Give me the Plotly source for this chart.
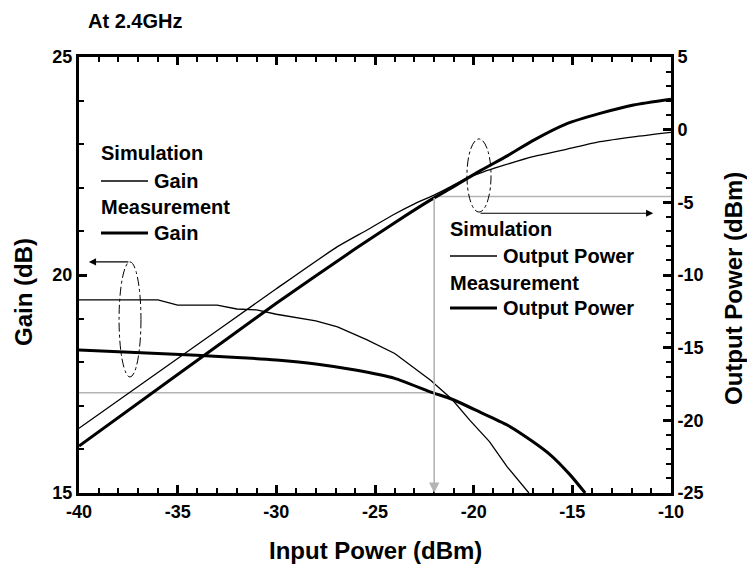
import plotly.graph_objects as go

# ---------------- data ----------------
sim_gain_x = [-40, -36, -35, -33, -32, -31, -30, -28, -26.9, -25.4, -24, -23.1, -22.2, -21.1, -20.2, -19.2, -18.3, -17.2]
sim_gain_y = [19.43, 19.43, 19.31, 19.31, 19.22, 19.2, 19.1, 18.95, 18.81, 18.51, 18.2, 17.9, 17.59, 17.15, 16.67, 16.18, 15.6, 15.0]

meas_gain_x = [-40, -36, -32, -30, -28, -26, -24, -22.2, -21.1, -19.7, -18.3, -17.1, -16.1, -15.1, -14.35]
meas_gain_y = [18.28, 18.2, 18.11, 18.05, 17.96, 17.82, 17.63, 17.32, 17.15, 16.86, 16.56, 16.21, 15.87, 15.41, 15.0]

sim_pout_x = [-40, -35, -30, -26.9, -25.4, -24, -23, -22, -21, -20.3, -19.5, -18.7, -17, -15.3, -13.6, -11.9, -10]
sim_pout_y = [-20.55, -15.75, -10.95, -8.05, -6.9, -5.8, -5.1, -4.5, -3.8, -3.3, -2.9, -2.55, -1.86, -1.35, -0.83, -0.49, -0.18]

meas_pout_x = [-40, -35, -30, -26, -24, -22.2, -21, -19.7, -18.3, -17, -15.3, -13.6, -11.9, -10]
meas_pout_y = [-21.77, -16.85, -11.95, -8.2, -6.4, -4.85, -3.9, -2.85, -1.8, -0.75, 0.4, 1.12, 1.7, 2.1]

x_ticks = [-40, -35, -30, -25, -20, -15, -10]
x_tick_text = ["-40", "-35", "-30", "-25", "-20", "-15", "-10"]
gain_ticks = [15, 20, 25]
gain_tick_text = ["15", "20", "25"]
pout_ticks = [-25, -20, -15, -10, -5, 0, 5]
pout_tick_text = ["-25", "-20", "-15", "-10", "-5", "0", "5"]

p1db_in = -22.0
p1db_gain = 17.3
p1db_out = -4.6

x_range = [-40, -10]
gain_range = [15, 25]
pout_range = [-25, 5]

W, H = 747, 567
ML, MR, MT, MB = 79, 76, 57, 74
PW, PH = W - ML - MR, H - MT - MB

FONT = "Liberation Sans, Arial, sans-serif"

fig = go.Figure()

fig.add_trace(go.Scatter(x=sim_gain_x, y=sim_gain_y, mode="lines",
                         line=dict(color="black", width=1.3), yaxis="y", showlegend=False))
fig.add_trace(go.Scatter(x=meas_gain_x, y=meas_gain_y, mode="lines",
                         line=dict(color="black", width=3, shape="spline", smoothing=0.6),
                         yaxis="y", showlegend=False))
fig.add_trace(go.Scatter(x=sim_pout_x, y=sim_pout_y, mode="lines",
                         line=dict(color="black", width=1.3, shape="spline", smoothing=0.6),
                         yaxis="y2", showlegend=False))
fig.add_trace(go.Scatter(x=meas_pout_x, y=meas_pout_y, mode="lines",
                         line=dict(color="black", width=3, shape="spline", smoothing=0.6),
                         yaxis="y2", showlegend=False))

tickfont = dict(family=FONT, size=18, color="black", weight="bold")

# Separate axes that only carry the inside tick marks (major every 5, minor every 1)
def tick_axis(rng, dtick, length, width, **kw):
    d = dict(range=rng, dtick=dtick, tick0=rng[0], ticks="inside", ticklen=length,
             tickwidth=width, tickcolor="black", showticklabels=False,
             showline=False, showgrid=False, zeroline=False)
    d.update(kw)
    return d

def axis(rng, vals, texts, **kw):
    d = dict(range=rng, tickmode="array", tickvals=vals, ticktext=texts,
             showline=True, linecolor="black", linewidth=3,
             ticks="", showgrid=False, zeroline=False, tickfont=tickfont)
    d.update(kw)
    return d

fig.update_layout(
    width=W, height=H,
    margin=dict(l=ML, r=MR, t=MT, b=MB),
    paper_bgcolor="white", plot_bgcolor="white",
    xaxis=axis(x_range, x_ticks, x_tick_text, mirror=True),
    yaxis=axis(gain_range, gain_ticks, gain_tick_text),
    yaxis2=axis(pout_range, pout_ticks, pout_tick_text, overlaying="y", side="right"),
    xaxis2=tick_axis(x_range, 1, 5, 2, overlaying="x", side="bottom", anchor="y"),
    xaxis3=tick_axis(x_range, 1, 5, 2, overlaying="x", side="top", anchor="y"),
    xaxis4=tick_axis(x_range, 5, 8, 2.5, overlaying="x", side="bottom", anchor="y"),
    xaxis5=tick_axis(x_range, 5, 8, 2.5, overlaying="x", side="top", anchor="y"),
    yaxis3=tick_axis(gain_range, 1, 5, 2, overlaying="y", side="left", anchor="x"),
    yaxis4=tick_axis(gain_range, 5, 8, 2.5, overlaying="y", side="left", anchor="x"),
    yaxis5=tick_axis(pout_range, 1, 5, 2, overlaying="y", side="right", anchor="x"),
    yaxis6=tick_axis(pout_range, 5, 8, 2.5, overlaying="y", side="right", anchor="x"),
    showlegend=False,
)

# invisible traces so the tick-only axes are drawn
for xa, ya, rx, ry in [("x2", "y", x_range, gain_range), ("x3", "y", x_range, gain_range),
                       ("x4", "y", x_range, gain_range), ("x5", "y", x_range, gain_range),
                       ("x", "y3", x_range, gain_range), ("x", "y4", x_range, gain_range),
                       ("x", "y5", x_range, pout_range), ("x", "y6", x_range, pout_range)]:
    fig.add_trace(go.Scatter(x=[rx[0]], y=[ry[0]], xaxis=xa, yaxis=ya, mode="markers",
                             marker=dict(opacity=0), hoverinfo="skip", showlegend=False))

txt = dict(family=FONT, size=20, color="black", weight="bold")
ttl = dict(family=FONT, size=24, color="black", weight="bold")

def label(text, px, py, font=txt, anchor="left", angle=0):
    fig.add_annotation(text=text, xref="paper", yref="paper",
                       x=(px - ML) / PW, y=(H - MB - py) / PH,
                       xanchor=anchor, yanchor="middle", showarrow=False,
                       font=font, textangle=angle)

def sample(px0, px1, py, width):
    fig.add_shape(type="line", xref="paper", yref="paper",
                  x0=(px0 - ML) / PW, x1=(px1 - ML) / PW,
                  y0=(H - MB - py) / PH, y1=(H - MB - py) / PH,
                  line=dict(color="black", width=width))

label("At 2.4GHz", 86, 21)

label("Simulation", 99, 153)
sample(101, 148, 181, 1.3)
label("Gain", 152, 181)
label("Measurement", 99, 207)
sample(101, 148, 233, 3)
label("Gain", 152, 233)

label("Simulation", 448, 229)
sample(450, 497, 256, 1.3)
label("Output Power", 501, 256)
label("Measurement", 448, 283)
sample(450, 497, 308, 3)
label("Output Power", 501, 308)

label("Input Power (dBm)", 375, 550, font=ttl, anchor="center")
label("Gain (dB)", 23, 292, font=ttl, anchor="center", angle=-90)
label("Output Power (dBm)", 733, 289, font=ttl, anchor="center", angle=-90)

fig.add_shape(type="circle", xref="x", yref="y", x0=-37.97, x1=-36.86, y0=17.66, y1=20.30,
              line=dict(color="black", width=1, dash="dashdot"))
fig.add_shape(type="circle", xref="x", yref="y2", x0=-20.34, x1=-19.12, y0=-5.67, y1=-0.64,
              line=dict(color="black", width=1, dash="dashdot"))

fig.add_annotation(x=-39.5, y=20.30, xref="x", yref="y", ax=-37.42, ay=20.30,
                   axref="x", ayref="y", showarrow=True, arrowhead=2, arrowsize=1.2,
                   arrowwidth=1.2, arrowcolor="black", text="")
fig.add_annotation(x=-10.9, y=-5.75, xref="x", yref="y2", ax=-19.73, ay=-5.75,
                   axref="x", ayref="y2", showarrow=True, arrowhead=2, arrowsize=1.2,
                   arrowwidth=1.2, arrowcolor="black", text="")

grey = "#b4b4b4"
fig.add_shape(type="line", xref="x", yref="y", x0=x_range[0], x1=p1db_in, y0=p1db_gain, y1=p1db_gain,
              line=dict(color=grey, width=1.6), layer="below")
fig.add_shape(type="line", xref="x", yref="y2", x0=p1db_in, x1=x_range[1], y0=p1db_out, y1=p1db_out,
              line=dict(color=grey, width=1.6), layer="below")
fig.add_annotation(x=p1db_in, y=pout_range[0], xref="x", yref="y2", ax=p1db_in, ay=p1db_out,
                   axref="x", ayref="y2", showarrow=True, arrowhead=2, arrowsize=1.3,
                   arrowwidth=1.6, arrowcolor=grey, text="")

fig.write_html("out.html")
